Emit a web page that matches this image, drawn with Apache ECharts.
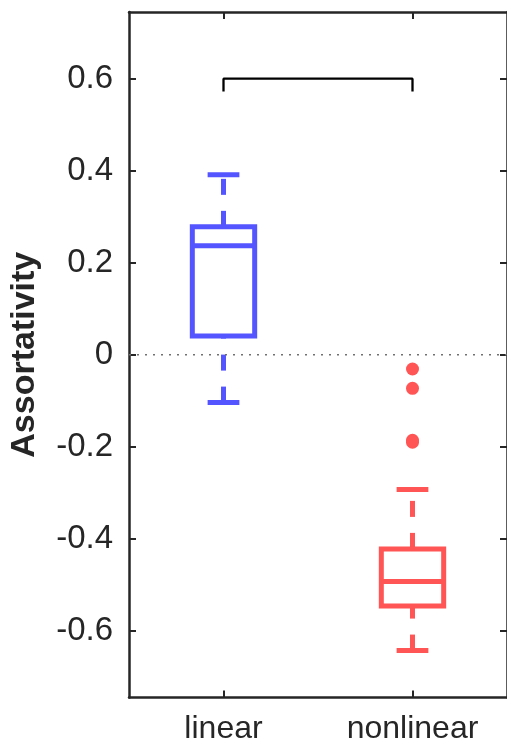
<!DOCTYPE html>
<html>
<head>
<meta charset="utf-8">
<script src="https://cdn.jsdelivr.net/npm/echarts@6/dist/echarts.min.js"></script>
<style>
  html, body { margin: 0; padding: 0; background: #fff; }
  #chart { width: 507px; height: 750px; }
</style>
</head>
<body>
<div id="chart"></div>
<script>
// box statistics, one entry per category
var categories = ['linear', 'nonlinear'];
var lowWhisker = [-0.104, -0.643];
var q1 = [0.041, -0.546];
var median = [0.237, -0.493];
var q3 = [0.278, -0.422];
var highWhisker = [0.391, -0.293];
var outliers = [[2, -0.031], [2, -0.073], [2, -0.186], [2, -0.190]];
// significance bracket between the two groups
var bracket = [[1, 0.572], [1, 0.6], [2, 0.6], [2, 0.572]];
var zeroLine = [[0.5, 0], [2.5, 0]];
var yTicks = [-0.6, -0.4, -0.2, 0, 0.2, 0.4, 0.6];
var xTicks = [1, 2];
var boxColors = ['#5555ff', '#ff5555'];

var font = 'Liberation Sans, Arial, Helvetica, sans-serif';
var ink = '#262626';

var boxData = categories.map(function (c, i) {
    return [i + 1, lowWhisker[i], q1[i], median[i], q3[i], highWhisker[i]];
});

function renderBox(params, api) {
    var x = api.value(0);
    var pLow = api.coord([x, api.value(1)]);
    var pQ1 = api.coord([x, api.value(2)]);
    var pMed = api.coord([x, api.value(3)]);
    var pQ3 = api.coord([x, api.value(4)]);
    var pHigh = api.coord([x, api.value(5)]);
    var halfBox = api.size([0.165, 0])[0];
    var halfCap = api.size([0.084, 0])[0];
    var cx = pMed[0];
    var color = boxColors[params.dataIndex];
    var solid = { stroke: color, lineWidth: 5, fill: 'none' };
    var dashed = { stroke: color, lineWidth: 5, lineDash: [16, 16] };
    return {
        type: 'group',
        children: [
            // whiskers are drawn from lower value to higher value
            { type: 'line', shape: { x1: cx, y1: pLow[1], x2: cx, y2: pQ1[1] }, style: dashed },
            { type: 'line', shape: { x1: cx, y1: pQ3[1], x2: cx, y2: pHigh[1] }, style: dashed },
            { type: 'line', shape: { x1: cx - halfCap, y1: pLow[1], x2: cx + halfCap, y2: pLow[1] }, style: solid },
            { type: 'line', shape: { x1: cx - halfCap, y1: pHigh[1], x2: cx + halfCap, y2: pHigh[1] }, style: solid },
            { type: 'rect', shape: { x: cx - halfBox, y: pQ3[1], width: halfBox * 2, height: pQ1[1] - pQ3[1] }, style: solid },
            { type: 'line', shape: { x1: cx - halfBox, y1: pMed[1], x2: cx + halfBox, y2: pMed[1] }, style: solid }
        ]
    };
}

function xAxisDef(pos) {
    return {
        type: 'value',
        position: pos,
        min: 0.5,
        max: 2.5,
        axisLine: { show: true, onZero: false, lineStyle: { color: ink, width: 2.5 } },
        axisTick: { show: true, inside: true, length: 7, customValues: xTicks, lineStyle: { color: ink, width: 2 } },
        axisLabel: {
            show: pos === 'bottom',
            customValues: xTicks,
            formatter: function (v) { return categories[Math.round(v) - 1]; },
            fontFamily: font,
            fontSize: 32,
            color: ink,
            margin: 16
        },
        splitLine: { show: false }
    };
}

function yAxisDef(pos) {
    return {
        type: 'value',
        position: pos,
        min: -0.745,
        max: 0.745,
        name: pos === 'left' ? 'Assortativity' : '',
        nameLocation: 'middle',
        nameGap: 87,
        nameTextStyle: { fontFamily: font, fontSize: 34, fontWeight: 'bold', color: ink },
        axisLine: { show: true, onZero: false, lineStyle: { color: ink, width: 2.5 } },
        axisTick: { show: true, inside: true, length: 7, customValues: yTicks, lineStyle: { color: ink, width: 2 } },
        axisLabel: {
            show: pos === 'left',
            customValues: yTicks,
            formatter: function (v) { return Math.abs(v) < 1e-9 ? '0' : v.toFixed(1); },
            fontFamily: font,
            fontSize: 33,
            color: ink,
            margin: 16
        },
        splitLine: { show: false }
    };
}

var myChart = echarts.init(document.getElementById('chart'));
var option = {
    animation: false,
    grid: { left: 129, right: -1, top: 12, bottom: 52.5 },
    xAxis: [xAxisDef('bottom'), xAxisDef('top')],
    yAxis: [yAxisDef('left'), yAxisDef('right')],
    series: [
        {
            type: 'line',
            data: zeroLine,
            symbol: 'none',
            silent: true,
            lineStyle: { color: '#707070', width: 1.3, type: [2, 6] }
        },
        {
            type: 'line',
            data: bracket,
            symbol: 'none',
            silent: true,
            lineStyle: { color: '#000', width: 2.3 }
        },
        {
            type: 'custom',
            data: boxData,
            encode: { x: 0, y: [1, 2, 3, 4, 5] },
            renderItem: renderBox
        },
        {
            type: 'scatter',
            data: outliers,
            symbolSize: 13,
            itemStyle: { color: '#ff5555', opacity: 1 }
        }
    ]
};
myChart.setOption(option);
</script>
</body>
</html>
